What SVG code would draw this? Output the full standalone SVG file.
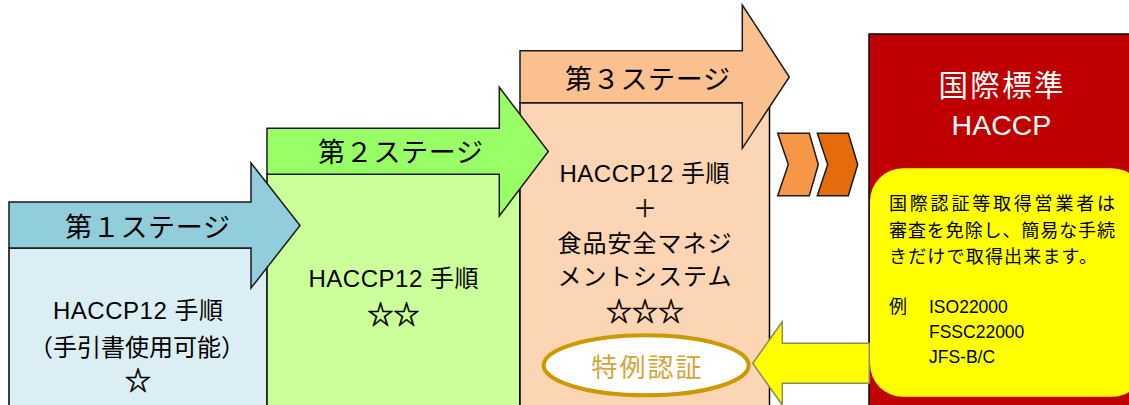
<svg xmlns="http://www.w3.org/2000/svg" width="1129" height="405" viewBox="0 0 1129 405">
<style>
text{font-family:"Liberation Sans","Noto Sans CJK JP",sans-serif;fill:#000;}
.body{stroke:#000;stroke-width:1.5;}
.arrow{stroke:#1a1a1a;stroke-width:1.5;stroke-linejoin:miter;}
.hdr{font-size:27px;text-anchor:middle;}
.txt{font-size:24px;text-anchor:middle;}
.cj{font-family:"Noto Sans CJK JP",sans-serif;}
.star{font-family:"Noto Sans CJK JP",sans-serif;font-size:26px;text-anchor:middle;stroke:#000;stroke-width:0.6;}
.yt{font-size:18px;}
.lat{font-size:17.5px;}
</style>
<rect width="1129" height="405" fill="#fff"/>

<g id="stage1">
<rect class="body" x="9" y="248" width="258.5" height="170" fill="#DAEEF3"/>
</g>
<g id="stage2">
<rect class="body" x="267" y="174" width="253" height="250" fill="#CCFF99"/>
</g>
<g id="stage3">
<rect class="body" x="520" y="102.7" width="249.5" height="320" fill="#FCD5B4"/>
</g>

<g id="connectors">
<polygon id="arrow1" class="arrow" fill="#92CDDC" points="9,202 251,202 251,163 300,225.5 251,288 251,248 9,248"/>
<polygon id="arrow2" class="arrow" fill="#99FF66" points="267,128.3 499.3,128.3 499.3,87.3 548.3,151.5 499.3,216 499.3,174.3 267,174.3"/>
<polygon id="arrow3" class="arrow" fill="#FAC090" points="520,50.7 742.3,50.7 742.3,5 789.3,77 742.3,148.3 742.3,102.7 520,102.7"/>
<polygon id="chev1" class="arrow" fill="#F79646" points="777.7,133.3 809.3,133.3 818.3,164.5 809.3,195.7 777.7,195.7 788.3,164.5"/>
<polygon id="chev2" class="arrow" fill="#E46C0A" points="817.3,133.3 848.3,133.3 857.7,164.5 848.3,195.7 817.3,195.7 827.7,164.5"/>
</g>

<g id="stage1-text">
<text class="hdr" x="147.5" y="237" textLength="165" lengthAdjust="spacing">第１ステージ</text>
<text class="txt" x="138" y="319" textLength="170" lengthAdjust="spacing">HACCP12 手順</text>
<text class="txt cj" x="137" y="356">（手引書使用可能）</text>
<text class="star" x="138" y="390">☆</text>
</g>
<g id="stage2-text">
<text class="hdr" x="400.5" y="162" textLength="165" lengthAdjust="spacing">第２ステージ</text>
<text class="txt" x="393.5" y="287" textLength="170" lengthAdjust="spacing">HACCP12 手順</text>
<text class="star" x="393.5" y="324">☆☆</text>
</g>
<g id="stage3-text">
<text class="hdr" x="647.5" y="89" textLength="165" lengthAdjust="spacing">第３ステージ</text>
<text class="txt" x="644.5" y="182" textLength="170" lengthAdjust="spacing">HACCP12 手順</text>
<text class="txt cj" x="645" y="217">＋</text>
<text class="txt cj" x="644.5" y="252" textLength="174" lengthAdjust="spacing">食品安全マネジ</text>
<text class="txt cj" x="644.5" y="285" textLength="174" lengthAdjust="spacing">メントシステム</text>
<text class="star" x="645" y="321">☆☆☆</text>
</g>

<g id="intl-haccp">
<rect x="869" y="34" width="270" height="390" fill="#C00000" stroke="#000" stroke-width="1.5"/>
<text x="1001" y="96" font-size="29.5" text-anchor="middle" style="fill:#fff" textLength="125" lengthAdjust="spacing">国際標準</text>
<text x="1001.5" y="135" font-size="28.5" text-anchor="middle" style="fill:#fff">HACCP</text>
<rect x="870" y="168.3" width="275" height="228.5" rx="33" ry="33" fill="#FFFF00"/>
<text class="yt cj" x="889" y="210" textLength="226" lengthAdjust="spacing">国際認証等取得営業者は</text>
<text class="yt cj" x="889" y="236.5" textLength="226" lengthAdjust="spacing">審査を免除し、簡易な手続</text>
<text class="yt cj" x="889" y="262.5" textLength="208" lengthAdjust="spacing">きだけで取得出来ます。</text>
<text class="yt cj" x="889" y="313" font-size="19">例</text>
<text class="lat" x="929" y="313">ISO22000</text>
<text class="lat" x="929" y="338">FSSC22000</text>
<text class="lat" x="929" y="363">JFS-B/C</text>
</g>

<g id="yellow-arrow">
<polygon fill="#FFFF00" stroke="#8C8A5A" stroke-width="1.5" points="869.3,343.3 782.3,343.3 782.3,321.7 752.7,363.3 782.3,405 782.3,383.3 869.3,383.3"/>
</g>

<g id="special-cert">
<ellipse cx="646.2" cy="365.3" rx="102.5" ry="30" fill="#fff" stroke="#CC9900" stroke-width="4"/>
<text x="646.5" y="376.5" font-size="26" text-anchor="middle" style="fill:#D2A63A;font-family:'Liberation Serif','Noto Sans CJK JP',serif" textLength="110" lengthAdjust="spacing">特例認証</text>
</g>
</svg>
